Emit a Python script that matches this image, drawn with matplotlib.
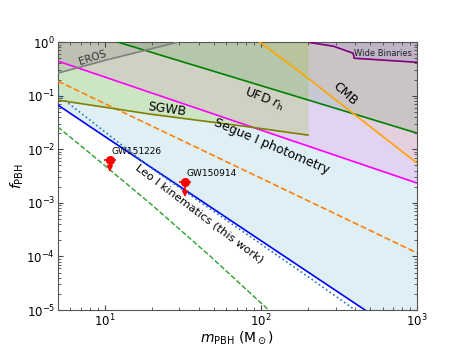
import numpy as np
import matplotlib
matplotlib.use("Agg")
import matplotlib.pyplot as plt

# Leo I kinematics (this work) - limite principale et variante pointillee
m_leo = [5, 10, 100, 464]
f_leo = [0.067, 0.0173, 1.97e-4, 1e-5]
m_leo_dot = [5, 19.4, 206, 401]
f_leo_dot = [0.103, 4.66e-3, 3.95e-5, 1e-5]

# courbes en tirets
m_green_dash = [5, 8.0, 19.4, 47.1, 112]
f_green_dash = [0.026, 8.5e-3, 9.9e-4, 1.02e-4, 1e-5]
m_orange_dash = [5, 100, 1000]
f_orange_dash = [0.187, 2.88e-3, 1.16e-4]

# Segue I photometry
m_segue = [5, 100, 1000]
f_segue = [0.442, 0.0228, 2.34e-3]

# UFD r_h
m_ufd = [12.1, 100, 1000]
f_ufd = [1.0, 0.154, 0.020]

# EROS
m_eros = [5, 10, 29.4]
f_eros = [0.264, 0.457, 1.0]

# SGWB
m_sgwb = [5, 19.4, 85, 200]
f_sgwb = [0.0828, 0.0454, 0.026, 0.0184]

# CMB
m_cmb = [98, 178, 1000]
f_cmb = [1.0, 0.275, 5.5e-3]

# Wide Binaries
m_wb = [206, 290, 389, 395, 1000]
f_wb = [0.98, 0.84, 0.62, 0.50, 0.42]

# evenements GW (limites superieures)
gw_names = ["GW151226", "GW150914"]
gw_m = [10.77, 32.6]
gw_f = [6.3e-3, 2.44e-3]
gw_f_arrow = [3.76e-3, 1.28e-3]
gw_xerr = [[0.93, 1.0], [2.8, 3.0]]

xmin, xmax = 5, 1000
ymin, ymax = 1e-5, 1

fig = plt.figure(figsize=(4.63, 3.48), dpi=100)
ax = fig.add_axes([0.125, 0.109, 0.776, 0.770])

# zones exclues
ax.fill_between(m_leo + [xmax], f_leo + [ymin], ymax, color="lightblue", alpha=0.4, lw=0, zorder=1)
ax.fill_between(m_segue, f_segue, ymax, color="violet", alpha=0.25, lw=0, zorder=1)
ax.fill_between(m_sgwb, f_sgwb, ymax, color="yellowgreen", alpha=0.25, lw=0, zorder=1)
ax.fill_between(m_ufd, f_ufd, ymax, color="green", alpha=0.12, lw=0, zorder=1)
ax.fill_between(m_eros, f_eros, ymax, color="gray", alpha=0.2, lw=0, zorder=1)
ax.fill_between(m_cmb, f_cmb, ymax, color="orange", alpha=0.08, lw=0, zorder=1)
ax.fill_between(m_wb, f_wb, ymax, color="mediumpurple", alpha=0.2, lw=0, zorder=1)

# lignes
ax.plot(m_leo, f_leo, color="blue", lw=1.2, zorder=3)
ax.plot(m_leo_dot, f_leo_dot, color="tab:blue", ls=":", lw=1.2, zorder=3)
ax.plot(m_green_dash, f_green_dash, color="tab:green", ls="--", lw=1.0, zorder=3)
ax.plot(m_orange_dash, f_orange_dash, color="tab:orange", ls="--", lw=1.2, zorder=3)
ax.plot(m_segue, f_segue, color="magenta", lw=1.2, zorder=3)
ax.plot(m_ufd, f_ufd, color="green", lw=1.2, zorder=3)
ax.plot(m_eros, f_eros, color="gray", lw=1.2, zorder=3)
ax.plot(m_sgwb, f_sgwb, color="olive", lw=1.2, zorder=3)
ax.plot(m_cmb, f_cmb, color="orange", lw=1.2, zorder=3)
ax.plot(m_wb, f_wb, color="purple", lw=1.2, zorder=3)

# points GW
for name, m, f, fa, xe in zip(gw_names, gw_m, gw_f, gw_f_arrow, gw_xerr):
    ax.errorbar([m], [f], xerr=[[xe[0]], [xe[1]]], fmt="o", color="red", ms=5.5, lw=1.2, zorder=5)
    ax.annotate("", xy=(m, fa), xytext=(m, f),
                arrowprops=dict(arrowstyle="-|>", color="red", lw=1.2, mutation_scale=8,
                                shrinkA=0, shrinkB=0),
                zorder=5)
    ax.text(m * 1.02, f * 1.2, name, fontsize=6.5, ha="left", va="bottom", zorder=6)

# etiquettes
ax.text(8.4, 0.5, "EROS", fontsize=7.5, rotation=18, color="#333333", ha="center", va="center")
ax.text(25, 0.056, "SGWB", fontsize=9, rotation=-8, ha="center", va="center")
ax.text(104, 0.086, r"UFD $r_{\rm h}$", fontsize=9, rotation=-21, ha="center", va="center")
ax.text(345, 0.107, "CMB", fontsize=9, rotation=-42, ha="center", va="center")
ax.text(117, 0.0115, "Segue I photometry", fontsize=9, rotation=-23, ha="center", va="center")
ax.text(40.5, 6.2e-4, "Leo I kinematics (this work)", fontsize=8.2, rotation=-37, ha="center", va="center")
ax.text(605, 0.60, "Wide Binaries", fontsize=6, color="#222222", ha="center", va="center")

ax.set_xscale("log")
ax.set_yscale("log")
ax.set_xlim(xmin, xmax)
ax.set_ylim(ymin, ymax)
ax.set_xlabel(r"$m_{\rm PBH}$ (M$_\odot$)", fontsize=10)
ax.set_ylabel(r"$f_{\rm PBH}$", fontsize=10)
ax.xaxis.set_label_coords(0.5, -0.072)
ax.yaxis.set_label_coords(-0.088, 0.5)
ax.tick_params(which="both", direction="in", top=True, right=True, labelsize=8.5, pad=2,
               color="#444444")
for s in ax.spines.values():
    s.set_color("#555555")

plt.savefig("out.png", dpi=100)
